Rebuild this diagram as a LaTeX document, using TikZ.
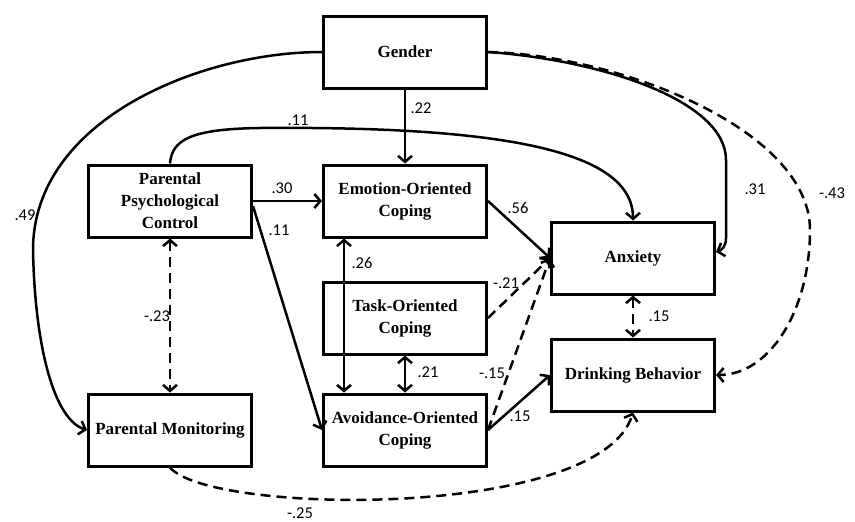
\documentclass[tikz,border=0pt]{standalone}
\usepackage{fontspec}
\setmainfont{Liberation Serif}
\newfontfamily\coeffont{Carlito}
\usepackage{tikz}
\usetikzlibrary{arrows.meta, positioning}
\tikzstyle{caja} = [draw=black, line width=3pt, rectangle, minimum width=163pt, minimum height=72pt, align=center, inner sep=2pt, font=\fontsize{17}{22}\selectfont\bfseries]
\tikzstyle{flecha} = [line width=2.5pt, -{Straight Barb[length=6pt,width=14pt]}]
\tikzstyle{doble} = [line width=2.5pt, {Straight Barb[length=6pt,width=14pt]}-{Straight Barb[length=6pt,width=14pt]}]
\tikzstyle{punteada} = [dash pattern=on 10pt off 6pt]
\tikzstyle{coef} = [font=\coeffont\fontsize{16.5}{19}\selectfont, inner sep=1pt]

\begin{document}
\begin{tikzpicture}[x=1pt, y=-1pt]
	\useasboundingbox (0,0) rectangle (855,522);
	\node [caja] (gender) at (405,52) {Gender};
	\node [caja, below=74pt of gender] (emotion) {Emotion-Oriented\\Coping};
	\node [caja, left=69pt of emotion] (ppc) {Parental\\Psychological\\Control};
	\node [caja, below=42pt of emotion] (task) {Task-Oriented\\Coping};
	\node [caja, below=37pt of task] (avoid) {Avoidance-Oriented\\Coping};
	\node [caja, left=69pt of avoid] (pm) {Parental Monitoring};
	\node [caja] (anx) at (633,258) {Anxiety};
	\node [caja, below=42pt of anx] (drink) {Drinking Behavior};

	\draw [flecha] (gender) -- (emotion);
	\draw [flecha] (ppc) -- (emotion);
	\draw [flecha] ([yshift=-5pt]ppc.east) -- (avoid.west);
	\draw [flecha] (emotion.east) -- (anx.west);
	\draw [flecha, punteada] (task.east) -- (anx.west);
	\draw [flecha, punteada] (avoid.east) -- (anx.west);
	\draw [flecha] (avoid.east) -- (drink.west);
	\draw [doble] ([xshift=22pt]emotion.south west) -- ([xshift=22pt]avoid.north west);
	\draw [doble] (task) -- (avoid);
	\draw [doble, punteada] (ppc) -- (pm);
	\draw [doble, punteada] (anx) -- (drink);
	\draw [flecha] (gender.west) .. controls (200,52) and (33,120) .. (33,250) .. controls (35,350) and (55,420) .. (pm.west);
	\draw [flecha] (ppc.north) .. controls (172,140) and (190,129) .. (260,128) .. controls (500,126) and (633,150) .. (anx.north);
	\draw [flecha] (gender.east) .. controls (600,60) and (726,100) .. (726,160) -- (726,238) .. controls (726,246) and (722,250) .. ([yshift=6pt]anx.east);
	\draw [flecha, punteada] (gender.east) .. controls (620,55) and (810,130) .. (810,230) .. controls (810,310) and (770,375) .. (drink.east);
	\draw [flecha, punteada] (pm.south) .. controls (210,515) and (600,520) .. (drink.south);

	\node [coef] (c49) at (25,215) {.49};
	\node [coef] (c22) at (421,108) {.22};
	\node [coef] (c11a) at (298,120) {.11};
	\node [coef] (c30) at (282,188) {.30};
	\node [coef] (c11b) at (279,230) {.11};
	\node [coef] (c56) at (518,208) {.56};
	\node [coef] (c31) at (755,189) {.31};
	\node [coef] (c43) at (832,193) {-.43};
	\node [coef] (c26) at (362,263) {.26};
	\node [coef] (c23) at (157,316) {-.23};
	\node [coef] (c21a) at (428,372) {.21};
	\node [coef] (c21b) at (506,283) {-.21};
	\node [coef] (c15a) at (492,373) {-.15};
	\node [coef] (c15b) at (520,416) {.15};
	\node [coef] (c15c) at (659,316) {.15};
	\node [coef] (c25) at (300,513) {-.25};
\end{tikzpicture}
\end{document}
